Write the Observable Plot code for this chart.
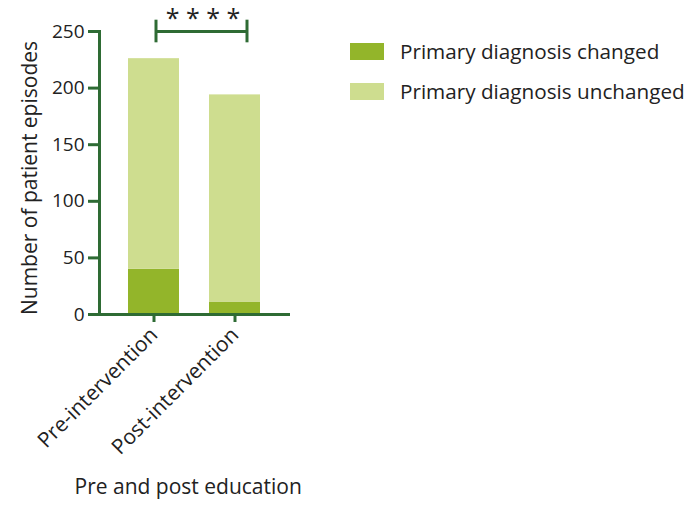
<!DOCTYPE html>
<html><head><meta charset="utf-8">
<script src="https://cdn.jsdelivr.net/npm/d3@7"></script>
<script src="https://cdn.jsdelivr.net/npm/@observablehq/plot@0.6"></script>
<style>
body{margin:0;background:#fff;font-family:"Open Sans",sans-serif;}
#wrap{position:relative;width:700px;height:506px;}
#legend{position:absolute;left:350px;top:31px;}
.item{display:flex;align-items:center;height:40px;font-size:20.7px;color:#222;white-space:nowrap;}
.sw{width:34px;height:17px;margin-right:16px;}
</style>
</head><body>
<div id="wrap"><div id="legend"></div></div>
<script>
const periods = ["Pre-intervention", "Post-intervention"];
const series = ["Primary diagnosis changed", "Primary diagnosis unchanged"];
const changed = [40, 11];
const unchanged = [186, 183];
const colors = ["#93b52a", "#cedd8f"];
const yTicks = [0, 50, 100, 150, 200, 250];
const yLabel = "Number of patient episodes";
const xLabel = "Pre and post education";
const sigLabel = "* * * *";
const sigLevel = 250;
const axisColor = "#2e6b34";

const data = periods.flatMap((p, i) => [
  {period: p, series: series[0], value: changed[i]},
  {period: p, series: series[1], value: unchanged[i]}
]);
const bracket = [{from: periods[0], to: periods[1], y: sigLevel}];

const chart = Plot.plot({
  width: 700, height: 506,
  marginLeft: 99, marginRight: 410, marginTop: 31, marginBottom: 192,
  style: {fontFamily: "Open Sans", fontSize: "18px", color: "#222", background: "white", overflow: "visible"},
  x: {domain: periods, paddingInner: 0.37, paddingOuter: 0.364, label: null},
  y: {domain: [0, 250], label: null},
  color: {domain: series, range: colors},
  marks: [
    Plot.barY(data, {x: "period", y: "value", fill: "series", order: series}),
    Plot.axisY({ticks: yTicks, tickSize: 11, stroke: axisColor, strokeWidth: 3, tickPadding: 4, label: null, fontSize: 19}),
    Plot.axisX({tickRotate: -45, tickSize: 8, stroke: axisColor, strokeWidth: 3, tickPadding: 9, label: null, fontSize: 21}),
    Plot.frame({anchor: "left", stroke: axisColor, strokeWidth: 3}),
    Plot.ruleY([0], {stroke: axisColor, strokeWidth: 3, insetLeft: -11}),
    Plot.ruleY(bracket, {y: "y", stroke: axisColor, strokeWidth: 3, insetLeft: 57, insetRight: 43}),
    Plot.ruleX(bracket, {x: "from", y1: d => d.y - 10, y2: d => d.y + 10, dx: 2, stroke: axisColor, strokeWidth: 3}),
    Plot.ruleX(bracket, {x: "to", y1: d => d.y - 10, y2: d => d.y + 10, dx: 12, stroke: axisColor, strokeWidth: 3}),
    Plot.text([sigLabel], {frameAnchor: "top", text: d => d, dx: 8, dy: -22, fontSize: 25, fill: "#222"}),
    Plot.text([yLabel], {frameAnchor: "left", text: d => d, rotate: -90, textAnchor: "middle", dx: -69, dy: 5, fontSize: 21, fill: "#222"}),
    Plot.text([xLabel], {frameAnchor: "bottom-left", text: d => d, textAnchor: "start", dx: -25, dy: 179, fontSize: 21, fill: "#222"})
  ]
});
document.getElementById("wrap").prepend(chart);

const legend = document.getElementById("legend");
series.forEach((s, i) => {
  const item = document.createElement("div");
  item.className = "item";
  item.innerHTML = `<span class="sw" style="background:${colors[i]}"></span><span>${s}</span>`;
  legend.appendChild(item);
});
</script>
</body></html>
